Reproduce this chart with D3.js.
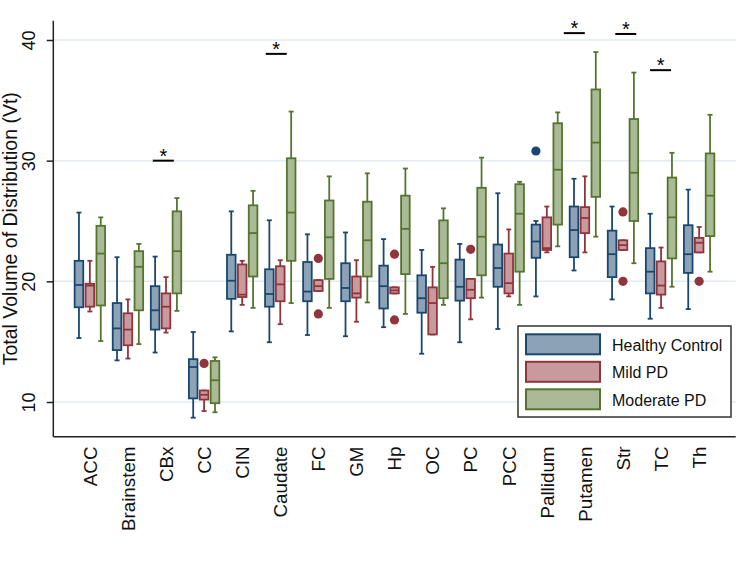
<!DOCTYPE html>
<html>
<head>
<meta charset="utf-8">
<script src="https://cdn.jsdelivr.net/npm/d3@7"></script>
<style>
html,body{margin:0;padding:0;background:#fff;}
svg{display:block;font-family:"Liberation Sans",Arial,sans-serif;}
</style>
</head>
<body>
<svg id="chart" width="756" height="567"></svg>
<script>
// ---------- data ----------
const categories = ["ACC","Brainstem","CBx","CC","CIN","Caudate","FC","GM","Hp","OC","PC","PCC","Pallidum","Putamen","Str","TC","Th"];
const seriesNames = ["Healthy Control","Mild PD","Moderate PD"];
const yTicks = [10,20,30,40];

// [lower whisker, Q1, median, Q3, upper whisker]
const healthyControl = [
  [15.3,17.85,19.7,21.7,25.7],
  [13.45,14.3,16.1,18.2,22.0],
  [14.1,16.0,17.6,19.6,22.05],
  [8.7,10.3,12.9,13.55,15.8],
  [15.85,18.55,20.05,22.2,25.8],
  [14.95,17.9,18.95,21.0,25.06],
  [15.55,18.35,19.15,21.6,23.9],
  [15.45,18.35,19.45,21.5,24.05],
  [16.2,17.75,19.6,21.3,23.5],
  [14.0,17.4,18.6,20.5,22.6],
  [14.95,18.4,19.55,21.8,23.1],
  [16.05,19.55,21.1,23.05,27.3],
  [18.75,21.95,23.3,24.7,25.0],
  [20.9,22.0,24.25,26.2,28.5],
  [18.5,20.35,22.25,24.2,26.2],
  [16.9,19.0,20.8,22.75,25.6],
  [17.7,20.7,22.25,24.65,27.6]
];
const mildPD = [
  [17.5,17.9,19.65,19.8,21.7],
  [13.6,14.7,16.0,17.35,18.5],
  [15.75,16.1,17.9,19.0,20.35],
  [9.25,10.2,10.6,10.95,10.95],
  [18.05,18.7,18.9,21.4,21.7],
  [16.45,18.35,19.75,21.25,21.75],
  [19.2,19.2,19.6,20.1,20.1],
  [16.65,18.65,19.0,20.4,21.75],
  [19.0,19.0,19.25,19.5,19.5],
  [15.6,15.6,18.2,19.5,21.2],
  [16.85,18.6,19.3,20.2,20.2],
  [18.75,19.0,19.85,22.3,24.3],
  [22.4,22.6,22.75,25.3,26.2],
  [22.4,24.0,25.25,26.15,28.7],
  [22.6,22.6,23.0,23.4,23.4],
  [17.8,18.9,19.65,21.65,22.8],
  [22.4,22.4,23.2,23.6,24.5]
];
const moderatePD = [
  [15.05,18.0,22.3,24.6,25.3],
  [14.8,17.6,21.2,22.5,23.1],
  [17.55,19.0,22.5,25.8,26.9],
  [9.15,9.9,11.8,13.4,13.7],
  [17.8,20.4,24.0,26.3,27.5],
  [18.2,21.7,25.7,30.2,34.07],
  [17.8,20.2,23.65,26.7,28.7],
  [18.25,20.4,23.4,26.6,28.95],
  [17.3,20.6,24.35,27.1,29.35],
  [18.05,18.6,21.5,25.05,26.05],
  [18.65,20.5,23.7,27.75,30.25],
  [18.05,20.8,25.6,28.05,28.25],
  [22.9,24.7,29.25,33.1,34.0],
  [23.7,27.0,31.5,35.9,39.0],
  [21.5,25.0,29.0,33.45,37.3],
  [19.55,21.9,25.3,28.6,30.65],
  [20.8,23.75,27.1,30.6,33.8]
];
// outliers: [category, series, value]
const outliers = [
  ["CC","Mild PD",13.2],
  ["FC","Mild PD",21.9],["FC","Mild PD",17.3],
  ["Hp","Mild PD",22.25],["Hp","Mild PD",16.8],
  ["PC","Mild PD",22.65],
  ["Pallidum","Healthy Control",30.8],
  ["Str","Mild PD",25.75],["Str","Mild PD",20.0],
  ["Th","Mild PD",20.0]
];
// significance markers: [category, value of bar]
const stars = [["CBx",30.0],["Caudate",38.85],["Putamen",40.57],["Str",40.5],["TC",37.5]];
const starShift = [-2.7,-4,-10.6,2.8,-0.5];

// ---------- styling ----------
const strokeCols = ["#1a476f","#90353b","#55752f"];
const fillCols   = ["#8ca3b7","#c89a9d","#aaba97"];
const seriesData = [healthyControl, mildPD, moderatePD];

const svg = d3.select("#chart");
const pLeft = 53.3, pRight = 735.7, pTop = 20.7, pBottom = 436.7;

const x = d3.scalePoint().domain(categories).range([pLeft, pRight]).padding(0.96);
const xs = d3.scalePoint().domain(seriesNames).range([-10.9, 10.9]);
const y = d3.scaleLinear().domain([10,40]).range([402, 40]);
const color = d3.scaleOrdinal().domain(seriesNames).range(strokeCols);
const fill = d3.scaleOrdinal().domain(seriesNames).range(fillCols);

// gridlines
svg.append("g").selectAll("line").data(yTicks).join("line")
  .attr("x1", pLeft).attr("x2", pRight)
  .attr("y1", d => y(d)).attr("y2", d => y(d))
  .attr("stroke", "#e3ecf1").attr("stroke-width", 1.5);

// boxes
const bw = 8.6, cap = 5;
seriesNames.forEach((s, si) => {
  const g = svg.append("g");
  const rows = categories.map((c, i) => ({c, v: seriesData[si][i]}));
  const cx = d => x(d.c) + xs(s);
  const grp = g.selectAll("g").data(rows).join("g");
  grp.append("line").attr("x1", cx).attr("x2", cx)
    .attr("y1", d => y(d.v[4])).attr("y2", d => y(d.v[3]))
    .attr("stroke", color(s)).attr("stroke-width", 1.8);
  grp.append("line").attr("x1", cx).attr("x2", cx)
    .attr("y1", d => y(d.v[1])).attr("y2", d => y(d.v[0]))
    .attr("stroke", color(s)).attr("stroke-width", 1.8);
  [0,4].forEach(k => {
    grp.append("line").attr("x1", d => cx(d) - cap/2).attr("x2", d => cx(d) + cap/2)
      .attr("y1", d => y(d.v[k])).attr("y2", d => y(d.v[k]))
      .attr("stroke", color(s)).attr("stroke-width", 1.8);
  });
  grp.append("rect")
    .attr("x", d => cx(d) - bw/2).attr("width", bw)
    .attr("y", d => y(d.v[3])).attr("height", d => Math.max(0.5, y(d.v[1]) - y(d.v[3])))
    .attr("fill", fill(s)).attr("stroke", color(s)).attr("stroke-width", 1.8);
  grp.append("line").attr("x1", d => cx(d) - bw/2).attr("x2", d => cx(d) + bw/2)
    .attr("y1", d => y(d.v[2])).attr("y2", d => y(d.v[2]))
    .attr("stroke", color(s)).attr("stroke-width", 1.8);
});

// outliers
svg.append("g").selectAll("circle").data(outliers).join("circle")
  .attr("cx", d => x(d[0]) + xs(d[1])).attr("cy", d => y(d[2])).attr("r", 4.6)
  .attr("fill", d => color(d[1]));

// stars
const sg = svg.append("g").selectAll("g").data(stars).join("g");
sg.append("line")
  .attr("x1", (d,i) => x(d[0]) + starShift[i] - 10.5).attr("x2", (d,i) => x(d[0]) + starShift[i] + 10.5)
  .attr("y1", d => y(d[1])).attr("y2", d => y(d[1]))
  .attr("stroke", "#000").attr("stroke-width", 2);
sg.append("text")
  .attr("x", (d,i) => x(d[0]) + starShift[i]).attr("y", d => y(d[1]) + 2)
  .attr("text-anchor", "middle").attr("font-size", 20).attr("fill", "#000").text("*");

// axes lines
svg.append("line").attr("x1", pLeft).attr("x2", pLeft).attr("y1", pTop).attr("y2", pBottom)
  .attr("stroke", "#222").attr("stroke-width", 1.5);
svg.append("line").attr("x1", pLeft).attr("x2", pRight).attr("y1", pBottom).attr("y2", pBottom)
  .attr("stroke", "#222").attr("stroke-width", 1.5);

// y axis ticks + labels
const yAxis = svg.append("g").attr("transform", `translate(${pLeft},0)`)
  .call(d3.axisLeft(y).tickValues(yTicks).tickSize(6.6).tickFormat(d3.format("d")));
yAxis.select(".domain").remove();
yAxis.selectAll(".tick line").attr("stroke", "#222").attr("stroke-width", 1.5);
yAxis.selectAll(".tick text")
  .attr("x", null).attr("dy", null)
  .attr("transform", `translate(${35 - pLeft},0) rotate(-90)`)
  .attr("text-anchor", "middle").attr("font-size", 18).attr("fill", "#111")
  .style("font-family", '"Liberation Sans",Arial,sans-serif');

// y title
svg.append("text")
  .attr("transform", `translate(16.5,${(pTop + pBottom)/2}) rotate(-90)`)
  .attr("text-anchor", "middle").attr("font-size", 19.5).attr("fill", "#111")
  .text("Total Volume of Distribution (Vt)");

// x labels
svg.append("g").selectAll("text").data(categories).join("text")
  .attr("transform", d => `translate(${x(d)},446.5) rotate(-90)`)
  .attr("text-anchor", "end").attr("dy", "0.36em")
  .attr("font-size", 18.8).attr("fill", "#111")
  .text(d => d);

// legend
const lg = svg.append("g");
lg.append("rect").attr("x", 518).attr("y", 326).attr("width", 213).attr("height", 91)
  .attr("fill", "#fff").attr("stroke", "#333").attr("stroke-width", 1.5);
const li = lg.selectAll("g").data(seriesNames).join("g")
  .attr("transform", (d,i) => `translate(526,${334.3 + i*27.5})`);
li.append("rect").attr("width", 74).attr("height", 20)
  .attr("fill", d => fill(d)).attr("stroke", d => color(d)).attr("stroke-width", 2);
li.append("text").attr("x", 86).attr("y", 16.4)
  .attr("font-size", 16).attr("fill", "#111").text(d => d);
</script>
</body>
</html>
